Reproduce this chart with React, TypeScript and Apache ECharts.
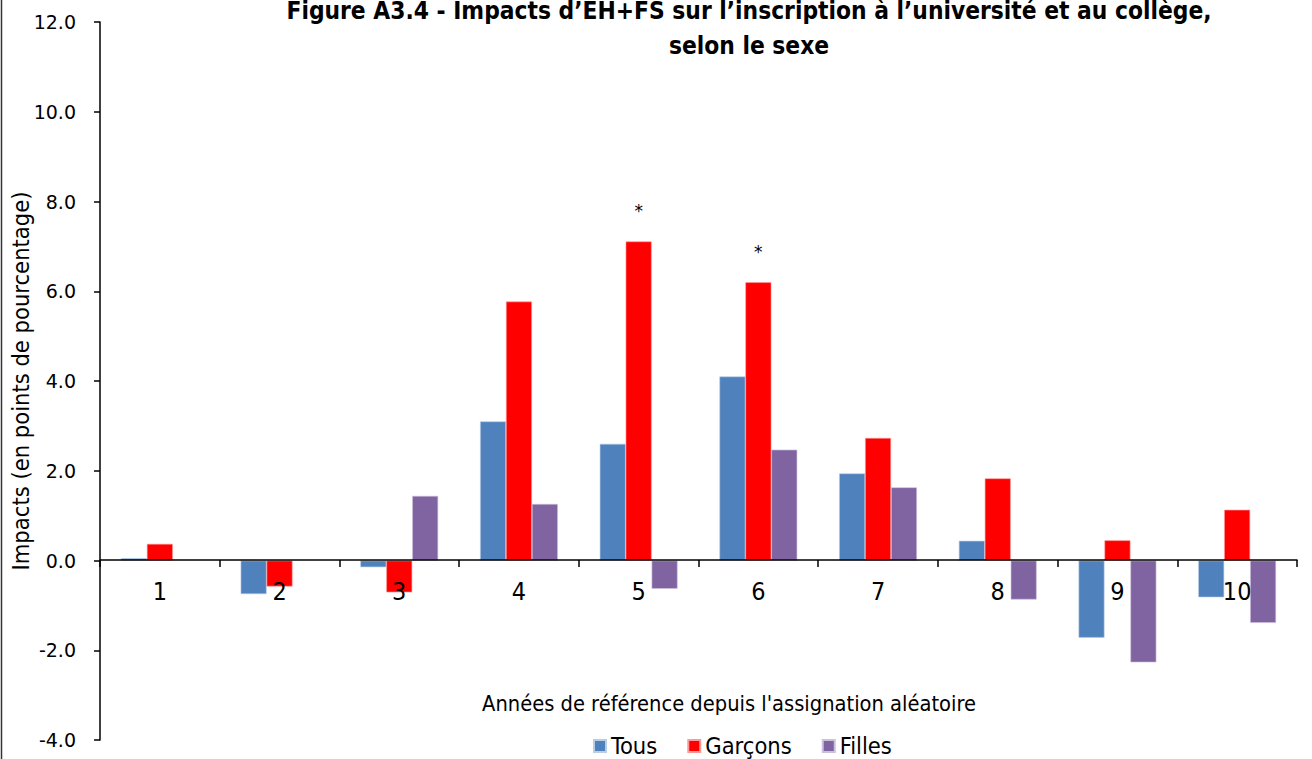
import React, { useEffect, useRef } from "react";
import * as echarts from "echarts";

const categories = ["1", "2", "3", "4", "5", "6", "7", "8", "9", "10"];
const tous = [0.05, -0.75, -0.15, 3.1, 2.6, 4.1, 1.94, 0.44, -1.72, -0.82];
const garcons = [0.37, -0.58, -0.71, 5.77, 7.11, 6.2, 2.73, 1.83, 0.45, 1.13];
const filles = [null, null, 1.44, 1.26, -0.63, 2.47, 1.63, -0.87, -2.27, -1.39];
const significantGarcons = [false, false, false, false, true, true, false, false, false, false];
const yTicks = { min: -4, max: 12, interval: 2 };

const NARROW = '"DejaVu Sans Condensed", "Liberation Sans Narrow", sans-serif';

export default function App() {
  const ref = useRef<HTMLDivElement>(null);
  useEffect(() => {
    document.body.style.margin = "0";
    const chart = echarts.init(ref.current!, null, { renderer: "svg" });
    const garconsData = garcons.map((v, i) =>
      significantGarcons[i]
        ? { value: v, label: { show: true, position: "top", distance: 22, formatter: "*", fontSize: 17, color: "#000", textBorderWidth: 0, fontFamily: "DejaVu Sans" } }
        : v
    );
    chart.setOption({
      animation: false,
      backgroundColor: "#fff",
      title: {
        text: "Figure A3.4 - Impacts d\u2019EH+FS sur l\u2019inscription \u00e0 l\u2019universit\u00e9 et au coll\u00e8ge,\nselon le sexe",
        left: 749,
        textAlign: "center",
        top: -7,
        padding: 0,
        textStyle: { fontFamily: NARROW, fontWeight: "bold", fontSize: 24.3, lineHeight: 35, color: "#000" },
      },
      grid: { left: 100, right: 15, top: 22, bottom: 19, containLabel: false, outerBoundsMode: "none" },
      legend: {
        top: 734,
        left: 593,
        itemWidth: 12,
        itemHeight: 12,
        itemGap: 30,
        icon: "rect",
        padding: 0,
        data: ["Tous", "Gar\u00e7ons", "Filles"],
        textStyle: { fontFamily: NARROW, fontSize: 23.5, color: "#000" },
      },
      xAxis: {
        type: "category",
        data: categories,
        position: "bottom",
        offset: -180,
        z: 10,
        axisLine: { onZero: false, lineStyle: { color: "#000", width: 1.5 } },
        axisTick: { show: true, length: 7, inside: false, lineStyle: { color: "#000", width: 1.5 } },
        axisLabel: { fontFamily: NARROW, fontSize: 25, color: "#000", margin: 19 },
        splitLine: { show: false },
      },
      yAxis: {
        type: "value",
        min: yTicks.min,
        max: yTicks.max,
        interval: yTicks.interval,
        name: "Impacts (en points de pourcentage)",
        nameLocation: "middle",
        nameGap: 67,
        nameMoveOverlap: false,
        nameRotate: 90,
        nameTextStyle: { fontFamily: NARROW, fontSize: 23.5, color: "#000" },
        axisLine: { show: true, lineStyle: { color: "#000", width: 1.5 } },
        axisTick: { show: true, length: 6, lineStyle: { color: "#000", width: 1.5 } },
        axisLabel: { fontFamily: "DejaVu Sans", fontSize: 19, color: "#000", margin: 24, formatter: (v: number) => v.toFixed(1) },
        splitLine: { show: false },
      },
      series: [
        { name: "Tous", type: "bar", data: tous, barGap: "0%", barCategoryGap: "35%", itemStyle: { color: "#4F81BD", borderColor: "#B9CDE5", borderWidth: 0.6 } },
        { name: "Gar\u00e7ons", type: "bar", data: garconsData, barGap: "0%", barCategoryGap: "35%", itemStyle: { color: "#FF0000", borderColor: "#FF9999", borderWidth: 0.6 } },
        { name: "Filles", type: "bar", data: filles, barGap: "0%", barCategoryGap: "35%", itemStyle: { color: "#8064A2", borderColor: "#CCC1DA", borderWidth: 0.6 } },
      ],
      graphic: [
        { type: "line", shape: { x1: 1.5, y1: 0, x2: 1.5, y2: 759 }, style: { stroke: "#333", lineWidth: 1.5 } },
        {
          type: "text",
          x: 729,
          y: 703,
          style: {
            text: "Ann\u00e9es de r\u00e9f\u00e9rence depuis l'assignation al\u00e9atoire",
            font: '21.7px "DejaVu Sans Condensed", sans-serif',
            fill: "#000",
            align: "center",
            verticalAlign: "middle",
          },
        },
      ],
    });
    return () => chart.dispose();
  }, []);
  return <div ref={ref} style={{ width: 1312, height: 759 }} />;
}
